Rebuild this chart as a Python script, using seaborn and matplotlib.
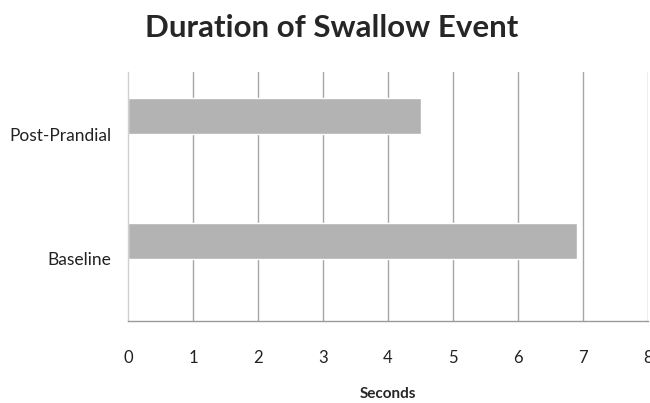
import matplotlib
matplotlib.use("Agg")
import matplotlib.pyplot as plt
import seaborn as sns
import pandas as pd

# Swallow-event duration per condition (seconds)
conditions = ["Post-Prandial", "Baseline"]
durations = [4.5, 6.9]
x_ticks = [0, 1, 2, 3, 4, 5, 6, 7, 8]

df = pd.DataFrame({"condition": conditions, "seconds": durations,
                   "series": ["Duration"] * len(conditions)})

sns.set_theme(style="white")
plt.rcParams["font.family"] = ["Lato", "DejaVu Sans"]

fig = plt.figure(figsize=(6.5, 4.03), dpi=100)
ax = fig.add_axes([0.197, 0.2035, 0.8, 0.6178])

# Clustered layout with one reserved (empty) slot, so each bar sits in the
# upper half of its category band
sns.barplot(data=df, x="seconds", y="condition", order=conditions,
            hue="series", hue_order=["Duration", "Reserved"],
            palette={"Duration": "#b3b3b3", "Reserved": "#b3b3b3"},
            saturation=1, width=0.58, gap=0, dodge=True, legend=False, ax=ax)

ax.set_xlim(0, 8)
ax.set_ylim(1.5, -0.5)
ax.set_xticks(x_ticks)
ax.set_xticklabels([str(t) for t in x_ticks], fontsize=12, color="#222222")
ax.tick_params(axis="x", length=0, pad=21)
ax.tick_params(axis="y", length=0, pad=12, labelsize=12.5, labelcolor="#222222")

for t in x_ticks[1:]:
    ax.axvline(t, color="#a6a6a6", lw=1.0, zorder=0)

for side in ["top", "right"]:
    ax.spines[side].set_visible(False)
ax.spines["left"].set_color("#d0d0d0")
ax.spines["left"].set_linewidth(1.0)
ax.spines["bottom"].set_color("#9a9a9a")
ax.spines["bottom"].set_linewidth(1.0)

ax.set_ylabel("")
ax.set_xlabel("Seconds", fontsize=11, fontweight="bold", labelpad=15)

fig.suptitle("Duration of Swallow Event", fontsize=22.5, fontweight="bold",
             x=0.51, y=0.965)

fig.savefig("out.png", dpi=100, facecolor="white")
